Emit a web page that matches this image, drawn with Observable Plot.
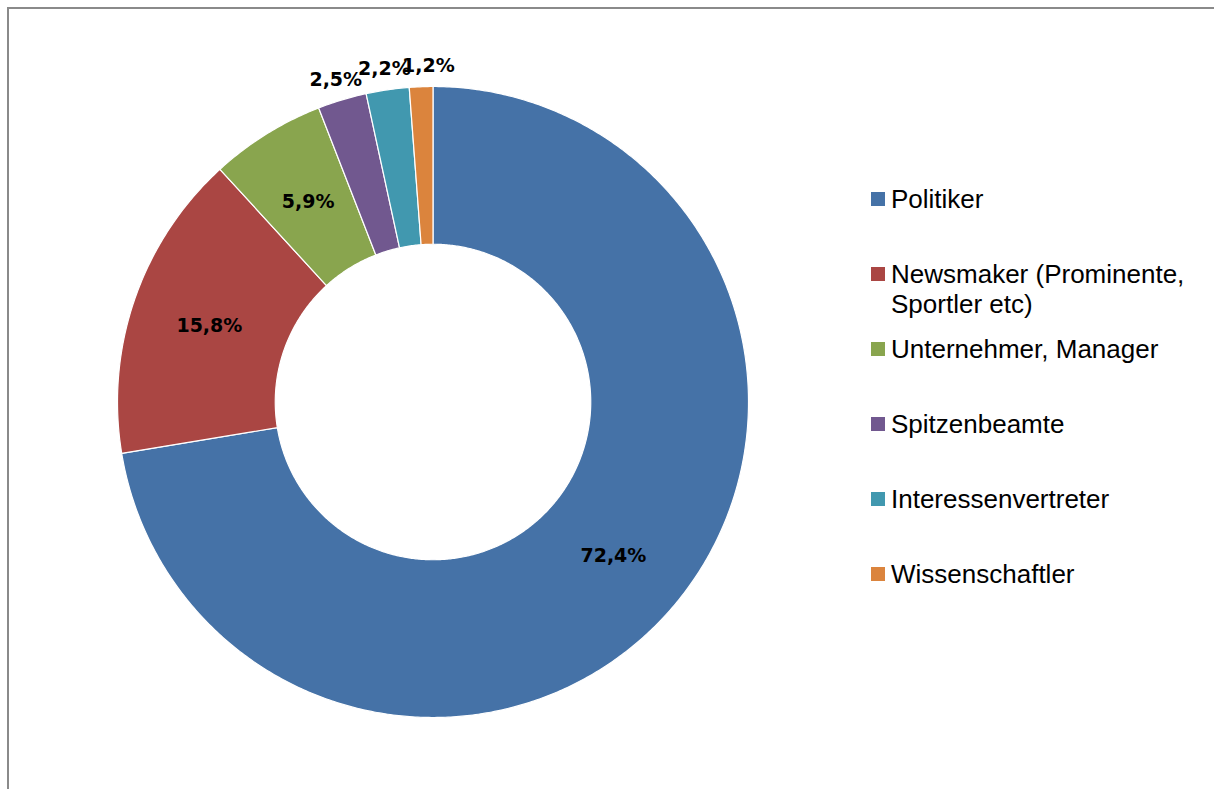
<!DOCTYPE html>
<html>
<head>
<meta charset="utf-8">
<script src="https://cdn.jsdelivr.net/npm/d3@7"></script>
<script src="https://cdn.jsdelivr.net/npm/@observablehq/plot@0.6"></script>
<style>
  html, body { margin: 0; padding: 0; background: #fff; }
  #wrap { position: relative; width: 1214px; height: 789px; overflow: hidden; }
  #frame { position: absolute; left: 7px; top: 7px; width: 1230px; height: 800px;
           border-left: 2px solid #8a8a8a; border-top: 2px solid #8a8a8a; box-sizing: border-box; }
  #chart { position: absolute; left: 0; top: 0; }
  #legend { position: absolute; left: 871px; top: 0; font-family: "Liberation Sans", Arial, sans-serif;
            font-size: 26px; line-height: 30px; color: #000; }
  .item { position: absolute; left: 0; width: 340px; }
  .sw { position: absolute; left: 0; width: 14px; height: 14px; }
  .lab { position: absolute; left: 20px; width: 320px; white-space: normal; }
</style>
</head>
<body>
<div id="wrap">
  <div id="frame"></div>
  <div id="chart"></div>
  <div id="legend"></div>
</div>
<script>
const categories = ["Politiker", "Newsmaker (Prominente, Sportler etc)", "Unternehmer, Manager", "Spitzenbeamte", "Interessenvertreter", "Wissenschaftler"];
const values = [72.4, 15.8, 5.9, 2.5, 2.2, 1.2];
const labels = ["72,4%", "15,8%", "5,9%", "2,5%", "2,2%", "1,2%"];
const colors = ["#4572A7", "#AA4643", "#89A54E", "#71588F", "#4198AF", "#DB843D"];

const innerR = 0.5;
const total = d3.sum(values);
// slice polygons (clockwise from 12 o'clock)
const pts = [];
const lbl = [];
let acc = 0;
let lastOut = -Infinity;
const minSep = 7.5 * Math.PI / 180;
categories.forEach((c, i) => {
  const a0 = acc / total * 2 * Math.PI;
  acc += values[i];
  const a1 = acc / total * 2 * Math.PI;
  const n = Math.max(4, Math.ceil((a1 - a0) / (Math.PI / 360)));
  for (let k = 0; k <= n; k++) {
    const a = a0 + (a1 - a0) * k / n;
    pts.push({cat: c, x: Math.sin(a), y: Math.cos(a)});
  }
  for (let k = n; k >= 0; k--) {
    const a = a0 + (a1 - a0) * k / n;
    pts.push({cat: c, x: innerR * Math.sin(a), y: innerR * Math.cos(a)});
  }
  let am = (a0 + a1) / 2;
  const outside = values[i] < 3;
  if (outside) {
    am = Math.max(am, lastOut + minSep);
    lastOut = am;
  }
  const r = outside ? 1.07 : 0.75;
  lbl.push({text: labels[i], x: r * Math.sin(am), y: r * Math.cos(am)});
});

const cx = 432.5, cy = 401.5, R = 315.5;
const chart = Plot.plot({
  width: 1214,
  height: 789,
  margin: 0,
  x: {domain: [-1, 1], range: [cx - R, cx + R], axis: null},
  y: {domain: [-1, 1], range: [cy + R, cy - R], axis: null},
  color: {domain: categories, range: colors},
  style: {background: "transparent"},
  marks: [
    Plot.line(pts, {x: "x", y: "y", z: "cat", fill: "cat", stroke: "white", strokeWidth: 1.2, curve: "linear-closed"}),
    Plot.text(lbl, {x: "x", y: "y", text: "text", fill: "black", fontFamily: "DejaVu Sans", fontWeight: "bold", fontSize: 19, textAnchor: "middle", dy: 1})
  ]
});
document.getElementById("chart").appendChild(chart);

// legend
const legend = document.getElementById("legend");
categories.forEach((c, i) => {
  const item = document.createElement("div");
  item.className = "item";
  item.style.top = (184 + i * 75) + "px";
  const sw = document.createElement("div");
  sw.className = "sw";
  sw.style.background = colors[i];
  sw.style.top = "8px";
  const lab = document.createElement("div");
  lab.className = "lab";
  lab.textContent = c;
  item.appendChild(sw);
  item.appendChild(lab);
  legend.appendChild(item);
});
</script>
</body>
</html>
